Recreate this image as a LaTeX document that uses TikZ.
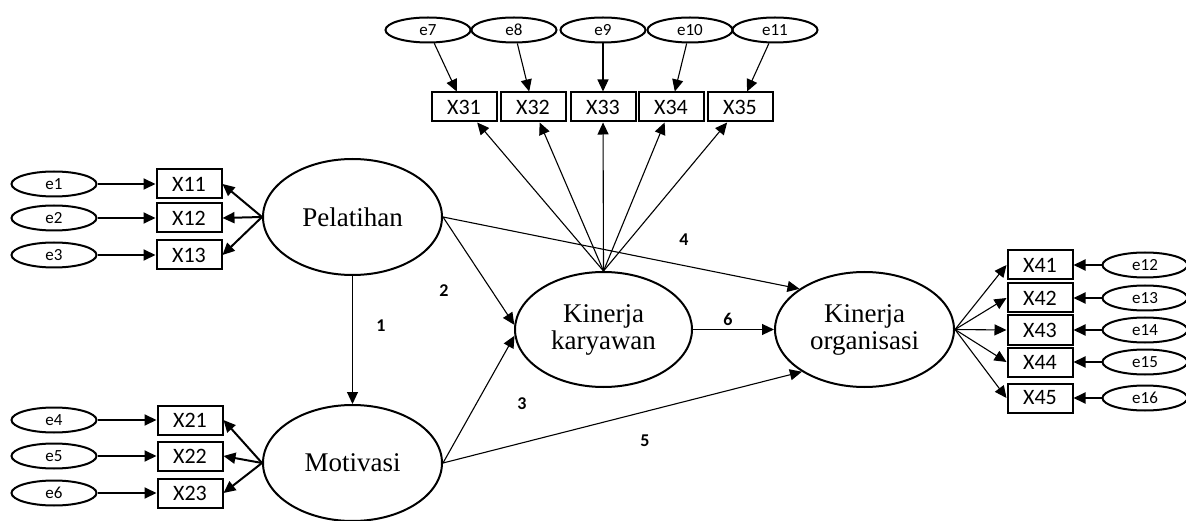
\documentclass[tikz,border=0pt]{standalone}
\usepackage{fontspec}
\setmainfont{Liberation Serif}
\newfontfamily\calfont{Carlito}
\usetikzlibrary{shapes.geometric,arrows.meta}
\tikzset{
  eell/.style={ellipse,draw,line width=2pt,minimum width=85pt,minimum height=25pt,inner sep=0pt,font=\calfont\fontsize{17}{19}\selectfont},
  obs/.style={rectangle,draw,line width=2pt,minimum width=65pt,minimum height=29pt,inner sep=0pt,font=\calfont\fontsize{22}{24}\selectfont},
  lat/.style={ellipse,draw,line width=2pt,minimum width=179pt,minimum height=116pt,inner sep=0pt,align=center,font=\fontsize{27}{31}\selectfont},
  thk/.style={line width=2pt,-{Triangle[length=12pt,width=11pt]}},
  thn/.style={line width=1.1pt,-{Triangle[length=12pt,width=11pt]}},
  num/.style={font=\calfont\bfseries\fontsize{18}{20}\selectfont},
}
\begin{document}
\begin{tikzpicture}[x=1pt,y=-1pt]
\useasboundingbox (0,0) rectangle (1186,521);
% latent
\node[lat] (pel) at (352.5,217) {Pelatihan};
\node[lat] (mot) at (352.5,463) {Motivasi};
\node[lat,minimum width=177pt,minimum height=115pt] (kk) at (603.5,329.5) {Kinerja\\[-4pt]karyawan};
\node[lat,minimum width=179pt,minimum height=115pt] (ko) at (864.5,329.5) {Kinerja\\[-4pt]organisasi};
% left top
\node[eell] (e1) at (54,184) {e1};
\node[eell] (e2) at (54,218) {e2};
\node[eell] (e3) at (54,255) {e3};
\node[obs] (x11) at (189,184) {X11};
\node[obs] (x12) at (189,218) {X12};
\node[obs] (x13) at (189,255) {X13};
% left bottom
\node[eell] (e4) at (54,420) {e4};
\node[eell] (e5) at (54,456) {e5};
\node[eell] (e6) at (54,493) {e6};
\node[obs] (x21) at (190,420) {X21};
\node[obs] (x22) at (190,456) {X22};
\node[obs] (x23) at (190,493) {X23};
% top
\node[eell] (e7) at (428,30) {e7};
\node[eell] (e8) at (514,30) {e8};
\node[eell] (e9) at (603,30) {e9};
\node[eell] (e10) at (690,30) {e10};
\node[eell] (e11) at (775,30) {e11};
\node[obs] (x31) at (464,107) {X31};
\node[obs] (x32) at (533,107) {X32};
\node[obs] (x33) at (603,107) {X33};
\node[obs] (x34) at (671,107) {X34};
\node[obs] (x35) at (740,107) {X35};
% right
\node[obs] (x41) at (1040,265) {X41};
\node[obs] (x42) at (1040,298) {X42};
\node[obs] (x43) at (1040,330) {X43};
\node[obs] (x44) at (1040,362) {X44};
\node[obs] (x45) at (1040,398) {X45};
\node[eell] (e12) at (1145,265) {e12};
\node[eell] (e13) at (1145,298) {e13};
\node[eell] (e14) at (1145,330) {e14};
\node[eell] (e15) at (1145,362) {e15};
\node[eell] (e16) at (1145,398) {e16};
% error arrows
\foreach \a/\b in {e1/x11,e2/x12,e3/x13,e4/x21,e5/x22,e6/x23,e12/x41,e13/x42,e14/x43,e15/x44,e16/x45}
  \draw[thk] (\a) -- (\b);
\foreach \a/\b in {e7/x31,e8/x32,e9/x33,e10/x34,e11/x35}
  \draw[thn] (\a) -- (\b);
% loadings
\foreach \b in {x11,x12,x13} \draw[thk] (pel.west) -- (\b.east);
\foreach \b in {x21,x22,x23} \draw[thk] (mot.west) -- (\b.east);
\foreach \b in {x31,x32,x33,x34,x35} \draw[thn] (kk.north) -- (\b);
\foreach \b in {x41,x42,x43,x44,x45} \draw[thn] (ko.east) -- (\b.west);
% structural
\draw[thn] (pel.south) -- (mot.north);
\draw[thn] (pel.east) -- (kk.177);
\draw[thn] (mot.east) -- (kk.184);
\draw[thn] (pel.east) -- (ko.148);
\draw[thn] (mot.east) -- (ko.214);
\draw[thn] (kk.east) -- (ko.west);
% labels
\node[num] (n1) at (381,326) {1};
\node[num] (n2) at (444,291) {2};
\node[num] (n3) at (522,404) {3};
\node[num] (n4) at (684,240) {4};
\node[num] (n5) at (645,441) {5};
\node[num] (n6) at (728,319) {6};
\end{tikzpicture}
\end{document}
